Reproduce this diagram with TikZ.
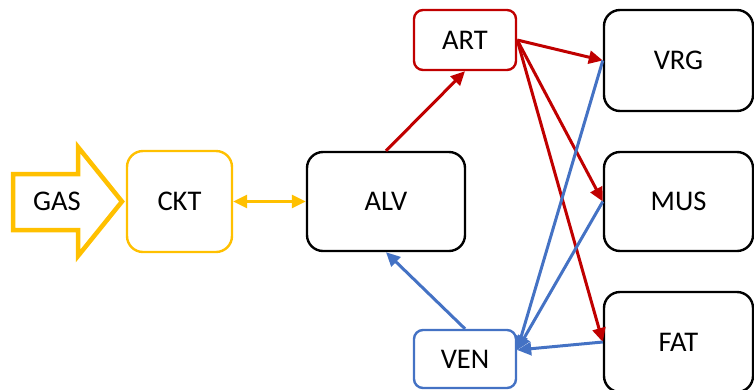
\documentclass[tikz,border=0pt]{standalone}
\usepackage{fontspec}
\setmainfont{Carlito}
\usetikzlibrary{arrows.meta}
\definecolor{gold}{HTML}{FFC000}
\definecolor{dred}{HTML}{C00000}
\definecolor{oblue}{HTML}{4472C4}
\begin{document}
\begin{tikzpicture}[x=1pt,y=-1pt, font=\fontsize{28.5}{33}\selectfont,
  box/.style={draw, line width=2.4pt, inner sep=0pt, fill=white},
  bigbox/.style={box, rounded corners=16pt},
  smallbox/.style={box, rounded corners=9pt},
  conn/.style={line width=3pt, -{Triangle[length=14pt,width=13pt]}}]
\useasboundingbox (0,0) rectangle (754,389);
\clip (0,0) rectangle (754,389);
% GAS block arrow
\draw[gold, line width=4.5pt, line join=miter] (13,174) -- (78,174) -- (78,147) -- (122,201.5) -- (78,256) -- (78,230) -- (13,230) -- cycle;
\node (gas) at (57,201.5) {GAS};
% boxes
\node[bigbox, draw=gold, minimum width=105pt, minimum height=101pt] (ckt) at (179.5,201.5) {CKT};
\node[bigbox, minimum width=158pt, minimum height=99pt] (alv) at (386,201.5) {ALV};
\node[smallbox, draw=dred, minimum width=102pt, minimum height=60pt] (art) at (465,40) {ART};
\node[smallbox, draw=oblue, minimum width=102pt, minimum height=58pt] (ven) at (465,359) {VEN};
\node[bigbox, minimum width=149pt, minimum height=101pt] (vrg) at (678.5,60.5) {VRG};
\node[bigbox, minimum width=149pt, minimum height=99pt] (mus) at (678.5,201.5) {MUS};
\node[bigbox, minimum width=149pt, minimum height=100pt] (fat) at (678.5,342) {FAT};
% connectors
\draw[line width=3pt, gold, {Triangle[length=14pt,width=13pt]}-{Triangle[length=14pt,width=13pt]}] (ckt.east) -- (alv.west);
\draw[conn, dred] (alv.north) -- (art.south);
\draw[conn, dred] (art.east) -- (vrg.west);
\draw[conn, dred] (art.east) -- (mus.west);
\draw[conn, dred] (art.east) -- (fat.west);
\coordinate (venin) at ([yshift=9pt]ven.east);
\draw[conn, oblue] (ven.north) -- (alv.south);
\draw[conn, oblue] (vrg.west) -- (venin);
\draw[conn, oblue] (mus.west) -- (venin);
\draw[conn, oblue] (fat.west) -- (venin);
\end{tikzpicture}
\end{document}
